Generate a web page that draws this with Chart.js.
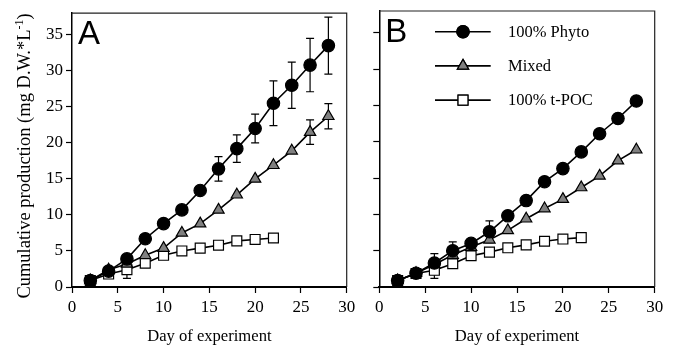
<!DOCTYPE html>
<html>
<head>
<meta charset="utf-8">
<script src="https://cdn.jsdelivr.net/npm/chart.js@4.4.1/dist/chart.umd.min.js"></script>
<style>
  body { margin: 0; background: #fff; }
  #wrap { position: relative; width: 676px; height: 347px; }
  #boxA { position: absolute; left: 0; top: 0; width: 360px; height: 347px; }
  #boxB { position: absolute; left: 360px; top: 0; width: 316px; height: 347px; }
</style>
</head>
<body>
<div id="wrap">
  <div id="boxA"><canvas id="chartA"></canvas></div>
  <div id="boxB"><canvas id="chartB"></canvas></div>
</div>
<script>
const days = [2, 4, 6, 8, 10, 12, 14, 16, 18, 20, 22, 24, 26, 28];
const tpocDays = [2, 4, 6, 8, 10, 12, 14, 16, 18, 20, 22];
const seriesNames = ['100% Phyto', 'Mixed', '100% t-POC'];
const xTicks = [0, 5, 10, 15, 20, 25, 30];
const yTicks = [0, 5, 10, 15, 20, 25, 30, 35];

// panel A
const phytoA = [0.9, 2.2, 3.9, 6.7, 8.8, 10.7, 13.4, 16.4, 19.2, 22.0, 25.5, 28.0, 30.8, 33.5];
const phytoErrA = [0, 0, 0, 0, 0, 0, 0, 1.7, 1.9, 2.0, 3.1, 3.2, 3.7, 3.95];
const mixedA = [0.9, 2.4, 3.2, 4.4, 5.4, 7.5, 8.8, 10.7, 12.8, 15.0, 16.9, 18.9, 21.5, 23.7];
const mixedErrA = [0, 0, 0, 0, 0, 0, 0, 0, 0, 0, 0, 0, 1.7, 1.75];
const tpocA = [0.9, 1.8, 2.4, 3.3, 4.4, 5.0, 5.4, 5.8, 6.4, 6.6, 6.8];
const tpocErrA = [0, 0, 1.2, 0, 0, 0, 0, 0, 0, 0, 0];

// panel B
const phytoB = [0.9, 1.9, 3.3, 5.0, 6.0, 7.6, 9.8, 11.9, 14.5, 16.3, 18.6, 21.1, 23.2, 25.6];
const phytoErrB = [0, 0, 1.3, 1.2, 0, 1.5, 0, 0, 0, 0, 0, 0, 0, 0];
const mixedB = [0.9, 1.9, 3.1, 4.4, 5.5, 6.5, 7.8, 9.4, 10.8, 12.1, 13.7, 15.3, 17.4, 18.9];
const mixedErrB = [0, 0, 0, 0, 0, 0, 0, 0, 0, 0, 0, 0, 0, 0];
const tpocB = [0.9, 1.85, 2.3, 3.2, 4.3, 4.8, 5.4, 5.8, 6.3, 6.6, 6.8];
const tpocErrB = [0, 0, 1.1, 0, 0, 0, 0, 0, 0, 0, 0];

const serifFamily = '"Liberation Serif", "Times New Roman", serif';
const serif = size => ({ family: serifFamily, size: size });

function pts(xs, ys) {
  return xs.map((x, i) => ({ x: x, y: ys[i] }));
}

function makeDatasets(phyto, phytoErr, mixed, mixedErr, tpoc, tpocErr) {
  const base = { borderColor: '#000', borderWidth: 1.6, pointBorderColor: '#000', pointBorderWidth: 1.2, tension: 0 };
  return [
    Object.assign({}, base, { label: seriesNames[0], data: pts(days, phyto), errors: phytoErr,
      pointStyle: 'circle', pointRadius: 6.2, pointBackgroundColor: '#000' }),
    Object.assign({}, base, { label: seriesNames[1], data: pts(days, mixed), errors: mixedErr,
      pointStyle: 'triangle', pointRadius: 6.5, pointBackgroundColor: '#808080' }),
    Object.assign({}, base, { label: seriesNames[2], data: pts(tpocDays, tpoc), errors: tpocErr,
      pointStyle: 'rect', pointRadius: 7, pointBackgroundColor: '#fff' })
  ];
}

const errorBars = {
  id: 'errorBars',
  beforeDatasetsDraw(chart) {
    const ctx = chart.ctx, y = chart.scales.y;
    ctx.save();
    ctx.strokeStyle = '#000';
    ctx.lineWidth = 1.2;
    chart.data.datasets.forEach((ds, i) => {
      const meta = chart.getDatasetMeta(i);
      ds.data.forEach((p, j) => {
        const e = ds.errors[j];
        if (!e) return;
        const px = meta.data[j].x;
        const top = y.getPixelForValue(p.y + e), bot = y.getPixelForValue(p.y - e);
        ctx.beginPath();
        ctx.moveTo(px, top); ctx.lineTo(px, bot);
        ctx.moveTo(px - 4, top); ctx.lineTo(px + 4, top);
        ctx.moveTo(px - 4, bot); ctx.lineTo(px + 4, bot);
        ctx.stroke();
      });
    });
    ctx.restore();
  }
};

const decor = {
  id: 'decor',
  afterDraw(chart, args, opts) {
    const ctx = chart.ctx, a = chart.chartArea;
    ctx.save();
    ctx.strokeStyle = '#222';
    ctx.lineWidth = 1.2;
    ctx.beginPath();
    ctx.moveTo(a.left, a.top); ctx.lineTo(a.right, a.top); ctx.lineTo(a.right, a.bottom);
    ctx.stroke();
    ctx.fillStyle = '#000';
    ctx.font = '33px "Liberation Sans", Arial, sans-serif';
    ctx.textBaseline = 'alphabetic';
    ctx.fillText(opts.label, a.left + 6, a.top + 31);

    if (opts.yTitle) {
      // rotated axis title with a real superscript
      ctx.save();
      ctx.translate(29.5, 156);
      ctx.rotate(-Math.PI / 2);
      const main = 'Cumulative production (mg D.W.*L';
      const sup = '-1';
      const end = ')';
      ctx.font = '18.5px ' + serifFamily;
      const w1 = ctx.measureText(main).width, w3 = ctx.measureText(end).width;
      ctx.font = '12px ' + serifFamily;
      const w2 = ctx.measureText(sup).width;
      let x = -(w1 + w2 + w3) / 2;
      ctx.font = '18.5px ' + serifFamily;
      ctx.fillText(main, x, 0);
      ctx.font = '12px ' + serifFamily;
      ctx.fillText(sup, x + w1, -7);
      ctx.font = '18.5px ' + serifFamily;
      ctx.fillText(end, x + w1 + w2, 0);
      ctx.restore();
    }

    if (opts.legend) {
      ctx.font = '16.5px ' + serifFamily;
      ctx.textBaseline = 'middle';
      chart.data.datasets.forEach((ds, i) => {
        const ly = a.top + 20.7 + i * 34.2;
        const lx = a.left + 55.7;
        ctx.strokeStyle = '#000';
        ctx.lineWidth = 1.6;
        ctx.beginPath(); ctx.moveTo(lx, ly); ctx.lineTo(lx + 55.7, ly); ctx.stroke();
        ctx.lineWidth = 1.2;
        Chart.helpers.drawPoint(ctx, {
          pointStyle: ds.pointStyle, radius: ds.pointRadius, borderWidth: 1.2, rotation: 0
        }, lx + 28, ly);
        ctx.fillStyle = ds.pointBackgroundColor;
        ctx.fill();
        ctx.stroke();
        ctx.fillStyle = '#000';
        ctx.fillText(ds.label, lx + 73, ly + 1);
      });
    }
    ctx.restore();
  }
};

function makeOptions(label, showY, yWidth, rightPad, legend) {
  return {
    responsive: true,
    maintainAspectRatio: false,
    animation: false,
    layout: { padding: { top: 11, right: rightPad, left: 0, bottom: 0 } },
    plugins: {
      legend: { display: false },
      tooltip: { enabled: false },
      decor: { label: label, legend: legend, yTitle: showY }
    },
    scales: {
      x: {
        type: 'linear', min: 0, max: 30,
        afterBuildTicks: s => { s.ticks = xTicks.map(v => ({ value: v })); },
        ticks: { color: '#000', font: serif(17), padding: 4, maxRotation: 0 },
        grid: { drawOnChartArea: false, tickLength: 6, tickColor: '#000', tickWidth: 1.2 },
        border: { color: '#000', width: 2 },
        title: { display: true, text: 'Day of experiment', color: '#000', font: serif(16.6), padding: { top: 0, bottom: 0 } },
        afterFit: s => { s.height = 60; }
      },
      y: {
        type: 'linear', min: 0, max: 38,
        afterBuildTicks: s => { s.ticks = yTicks.map(v => ({ value: v })); },
        ticks: { display: showY, color: '#000', font: serif(17), padding: 3 },
        grid: { drawOnChartArea: false, tickLength: 6, tickColor: '#000', tickWidth: 1.2 },
        border: { color: '#000', width: 1.5 },
        title: { display: false },
        afterFit: s => { s.width = yWidth; }
      }
    }
  };
}

new Chart(document.getElementById('chartA'), {
  type: 'line',
  data: { datasets: makeDatasets(phytoA, phytoErrA, mixedA, mixedErrA, tpocA, tpocErrA) },
  options: makeOptions('A', true, 72, 13.3, false),
  plugins: [errorBars, decor]
});

new Chart(document.getElementById('chartB'), {
  type: 'line',
  data: { datasets: makeDatasets(phytoB, phytoErrB, mixedB, mixedErrB, tpocB, tpocErrB) },
  options: makeOptions('B', false, 19.3, 21.3, true),
  plugins: [errorBars, decor]
});
</script>
</body>
</html>
